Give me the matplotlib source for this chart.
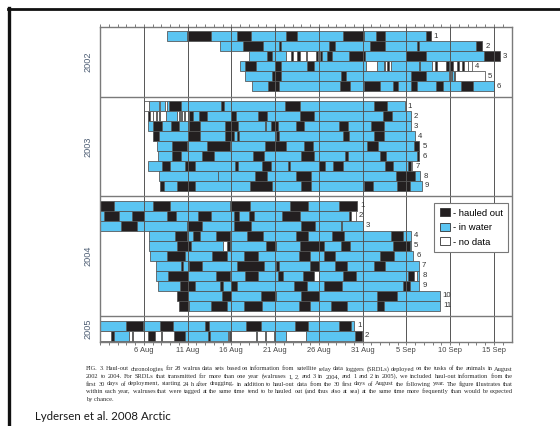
import matplotlib
matplotlib.use("Agg")
import matplotlib.pyplot as plt
import matplotlib.transforms as mtransforms
from matplotlib.patches import Patch
from matplotlib.lines import Line2D

plt.rcParams["font.family"] = ["Liberation Sans", "DejaVu Sans"]

# state colours: H = hauled out, W = in water, N = no data
HAULED = "#231f20"
WATER = "#5bc5f2"
NODATA = "#ffffff"
COLOURS = {"H": HAULED, "W": WATER, "N": NODATA}
EDGE = "#505050"
FRAME = "#7a7a7a"

years = ["2002", "2003", "2004", "2005"]

# each track: "<state><start day>" tokens followed by the end day
# (day 1 = 1 August, day 32 = 1 September)
tracks_2002 = [
    "W8.7 H10.9 W13.7 H16.6 W18.3 H22.3 W23.5 H28.8 W31.2 H32.5 W33.6 H38.3 38.8",
    "W14.7 H17.3 W19.6 H21.4 W21.7 H27.2 W27.9 H31.8 W33.6 H37.2 W37.5 H44.0 44.7",
    "W18.0 H20.1 W20.6 N22.3 H22.8 N23.0 H23.5 N23.9 H24.5 N24.7 H25.7 N25.9 H26.1 "
    "W26.4 H26.9 W27.5 H29.5 W31.3 H36.0 W38.3 H44.9 46.7",
    "W17.0 H17.6 W18.8 H21.0 W21.7 H24.7 W25.5 N31.4 W32.7 H33.5 N33.6 H33.8 N34.0 "
    "W34.2 H37.5 W37.6 N38.9 H39.3 N39.5 H40.5 W40.9 H41.0 N41.3 H41.8 N42.0 H42.4 "
    "N42.6 H43.0 N43.1 43.5",
    "W17.6 H20.6 W21.7 H28.5 W29.1 H36.5 W38.3 N40.9 H41.1 W41.2 H41.5 N41.6 45.0",
    "W18.4 H20.2 W21.4 H28.4 W29.6 H31.2 W33.0 H34.5 W35.1 H36.5 W37.2 H39.4 W40.2 "
    "H42.3 W43.6 46.0",
]

tracks_2003 = [
    "N6.0 W6.6 N7.7 W7.9 N8.4 W8.6 H8.9 W10.3 H14.8 W15.2 H22.1 W23.8 H32.3 W33.8 35.8",
    "H6.5 N6.7 H7.0 N7.1 H7.4 N7.5 H7.7 N7.8 W8.55 N9.85 H10.0 N10.1 H10.3 N10.4 "
    "H10.6 N10.7 H11.2 W11.6 H12.3 W13.2 H16.0 W16.5 H19.0 W20.1 H23.9 W25.5 H33.3 "
    "W34.4 36.5",
    "W6.5 H7.1 W8.1 H9.1 W10.0 H11.2 W12.4 H15.3 W16.8 H19.8 W20.0 H20.5 W21.3 H23.4 "
    "W24.3 H28.3 W29.3 H32.0 W33.5 36.5",
    "H7.0 W7.7 H11.0 W12.4 H15.3 W16.3 H16.7 W16.9 H21.1 W21.5 H28.8 W29.4 H32.3 "
    "W33.4 37.0",
    "W7.5 H9.2 W10.9 H13.2 W15.8 H19.9 W22.2 H24.3 W25.3 H31.5 W32.8 H36.9 37.5",
    "W7.6 H9.2 W10.3 H12.7 W14.0 H18.5 W19.7 H24.0 W25.5 H29.0 W29.3 H33.0 W33.7 "
    "H37.2 37.5",
    "W6.5 H8.1 W9.0 H10.7 W11.8 H16.4 W16.8 H19.5 W20.5 H22.5 W22.7 H26.0 W26.7 "
    "H27.6 W28.8 H33.6 W34.5 H36.2 N36.5 36.7",
    "W7.7 W14.5 H18.7 W20.1 H23.4 W25.1 H34.8 W37.0 37.6",
    "H7.8 W8.3 H9.8 W11.9 H18.1 W20.6 H24.0 W25.1 H31.2 W32.2 H34.9 W36.4 37.8",
]

tracks_2004 = [
    "H1.0 W2.6 H7.0 W9.0 H15.8 W18.1 H22.7 W24.8 H28.3 30.4",
    "W1.0 H1.4 W3.2 H4.7 W6.0 H8.6 W9.7 H12.2 W13.7 H16.3 W16.9 H18.0 W18.6 H21.8 "
    "W23.9 H29.5 N29.7 30.2",
    "W1.0 H3.4 W5.2 H10.9 W12.6 H16.3 W18.2 H24.0 W25.6 H28.5 W28.7 31.0",
    "W6.6 H9.6 W10.9 H11.6 W12.4 H14.3 W15.8 H17.8 W19.6 H23.4 W24.8 H27.5 W28.9 "
    "H34.2 W35.6 36.5",
    "W6.6 H9.85 W11.4 N15.1 H15.5 W15.8 H20.0 W21.1 H23.9 W26.6 H28.5 W29.6 H34.5 "
    "W36.4 36.5",
    "W6.7 H8.6 W10.7 H13.8 W15.5 H17.5 W19.0 H23.7 W25.0 H26.6 W27.9 H33.0 W34.6 36.8",
    "W7.4 H10.3 W10.5 H11.2 W12.6 H16.7 W19.7 H21.1 W21.5 H25.0 W26.0 H27.9 W29.2 "
    "H32.3 W33.6 37.4",
    "W7.4 H8.8 W11.0 H14.3 W15.8 H17.6 W19.1 H21.3 W21.9 H24.2 N25.5 W26.0 H28.8 "
    "W30.2 H36.2 N36.85 W37.2 37.5",
    "W7.6 H10.1 W11.9 H14.7 W15.0 H16.0 W16.7 H23.2 W24.7 H26.6 W28.65 H35.6 W36.4 37.5",
    "H9.8 W11.0 H14.9 W16.0 H19.4 W21.1 H24.0 W26.0 H32.7 W34.9 39.8",
    "H10.0 W11.2 H13.7 W15.5 H17.4 W19.5 H23.7 W25.0 H27.4 W29.2 H32.7 W33.4 39.9",
]

tracks_2005 = [
    "W1.0 H4.0 W5.9 H7.9 W9.3 H13.0 W13.5 H17.7 W19.4 H23.3 W24.8 H28.3 W29.7 30.05",
    "N1.0 H2.3 W2.6 N4.35 H4.7 N4.8 H6.5 N7.3 H8.0 N8.1 H9.45 W10.7 H13.3 W13.6 "
    "N15.6 H15.7 N15.8 H15.9 N16.0 W18.8 N18.95 W19.8 N19.95 W20.9 N22.3 W24.5 "
    "H30.1 30.9",
]

tick_days = [6, 11, 16, 21, 26, 31, 36, 41, 46]
tick_labels = ["6 Aug", "11 Aug", "16 Aug", "21 Aug", "26 Aug", "31 Aug",
               "5 Sep", "10 Sep", "15 Sep"]
legend_labels = ["- hauled out", "- in water", "- no data"]

caption_lines = [
    "FIG. 3. Haul-out chronologies for 28 walrus data sets based on information from "
    "satellite relay data loggers (SRDLs) deployed on the tusks of the animals in August",
    "2002 to 2004. For SRDLs that transmitted for more than one year (walruses 1, 2, and 3 "
    "in 2004, and 1 and 2 in 2005), we included haul-out information from the",
    "first 30 days of deployment, starting 24 h after drugging, in addition to haul-out data "
    "from the 30 first days of August the following year. The figure illustrates that",
    "within each year, walruses that were tagged at the same time tend to be hauled out "
    "(and thus also at sea) at the same time more frequently than would be expected",
    "by chance.",
]
source_text = "Lydersen et al. 2008 Arctic"


def parse_track(track):
    tokens = track.split()
    end = float(tokens[-1])
    states = [t[0] for t in tokens[:-1]]
    starts = [float(t[1:]) for t in tokens[:-1]]
    ends = starts[1:] + [end]
    return list(zip(states, starts, ends)), end


W_PX, H_PX = 560, 426
fig = plt.figure(figsize=(W_PX / 100, H_PX / 100), dpi=100)
ax = fig.add_axes([100 / W_PX, 1 - 341.5 / H_PX,
                   (511.7 - 100) / W_PX, (341.5 - 27) / H_PX])

PAD_TOP, PAD_BOTTOM, PAD_LAST = 0.45, 0.55, 0.1
year_x = mtransforms.blended_transform_factory(ax.transAxes, ax.transData)

y = 0.0
for yi, (year, tracks) in enumerate(zip(years, [tracks_2002, tracks_2003,
                                                 tracks_2004, tracks_2005])):
    panel_top = y
    y += PAD_TOP
    groups = {"H": ([], [], []), "W": ([], [], []), "N": ([], [], [])}
    for k, track in enumerate(tracks):
        yc = y + 0.5
        segs, end = parse_track(track)
        for state, s, e in segs:
            groups[state][0].append(yc)
            groups[state][1].append(e - s)
            groups[state][2].append(s)
        ax.annotate(str(k + 1), (end, yc), xytext=(2.2, 0),
                    textcoords="offset points", ha="left", va="center",
                    fontsize=5.6, color="#333333", zorder=6)
        y += 1.0
    for state, (ys, widths, lefts) in groups.items():
        ax.barh(ys, widths, left=lefts, height=1.0, color=COLOURS[state],
                edgecolor=EDGE, linewidth=0.55, zorder=2)
    last = yi == len(years) - 1
    y += PAD_LAST if last else PAD_BOTTOM
    ax.text(-0.03, (panel_top + y) / 2, year, transform=year_x, rotation=90,
            ha="center", va="center", fontsize=6.6, color="#4f5f75")
    if not last:
        ax.axhline(y, color=FRAME, linewidth=1.0, zorder=4)

ax.set_ylim(y, 0)
ax.set_xlim(1, 48.05)

# major date grid drawn over the bars
for d in tick_days:
    ax.axvline(d, color="#555555", linewidth=0.7, zorder=3)

ax.set_xticks(tick_days)
ax.set_xticklabels(tick_labels)
ax.set_xticks(range(1, 48), minor=True)
ax.tick_params(axis="x", which="both", top=True, bottom=True, direction="out",
               length=2.4, width=0.6, color="#666666", labelsize=5.4,
               labelcolor="#444444", pad=1.2)
ax.tick_params(axis="y", left=False, labelleft=False)
for sp in ax.spines.values():
    sp.set_color(FRAME)
    sp.set_linewidth(1.0)

handles = [Patch(facecolor=c, edgecolor="#333333", linewidth=0.6)
           for c in (HAULED, WATER, NODATA)]
leg = ax.legend(handles, legend_labels, loc="upper right",
                bbox_to_anchor=((508 - 100) / 411.7, 1 - (203 - 27) / 314.5),
                borderaxespad=0, fancybox=False, framealpha=1, edgecolor="#777777",
                fontsize=6.8, handlelength=1.05, handleheight=0.95,
                handletextpad=0.35, labelspacing=0.55, borderpad=0.55)
leg.get_frame().set_linewidth(0.8)
leg.set_zorder(7)

# justified caption block: size the serif text so the longest line just fits
renderer = fig.canvas.get_renderer()
cap_left, cap_right = 86.0, 513.0
cap_family = ["Liberation Serif", "DejaVu Serif"]
probe_size = 10.0
longest = 0.0
for line in caption_lines[:-1]:
    probe = fig.text(0, 0, line, fontsize=probe_size, family=cap_family)
    longest = max(longest, probe.get_window_extent(renderer).width)
    probe.remove()
cap_size = probe_size * (cap_right - cap_left) / longest * 0.985
cap_kw = dict(fontsize=cap_size, color="#2b2b2b", family=cap_family,
              va="center", ha="left")
for i, line in enumerate(caption_lines):
    yf = 1 - (369 + 7.5 * i) / H_PX
    if i == len(caption_lines) - 1:
        fig.text(cap_left / W_PX, yf, line, **cap_kw)
        continue
    words = line.split()
    texts = [fig.text(0, yf, w, **cap_kw) for w in words]
    widths = [t.get_window_extent(renderer).width for t in texts]
    gap = max((cap_right - cap_left - sum(widths)) / (len(words) - 1), 0.5)
    xpos = cap_left
    for t, w in zip(texts, widths):
        t.set_x(xpos / W_PX)
        xpos += w + gap

fig.text(35 / W_PX, 1 - 417 / H_PX, source_text, fontsize=8.3, color="#1a1a1a",
         family=["Lato", "DejaVu Sans"], ha="left", va="center")

# slide border
fig.add_artist(Line2D([7.5 / W_PX, 1], [1 - 8.7 / H_PX] * 2, color="#111111",
                      linewidth=2.0, transform=fig.transFigure))
fig.add_artist(Line2D([9 / W_PX] * 2, [0, 1 - 7.5 / H_PX], color="#111111",
                      linewidth=2.4, transform=fig.transFigure))

fig.savefig("out.png", dpi=100)
